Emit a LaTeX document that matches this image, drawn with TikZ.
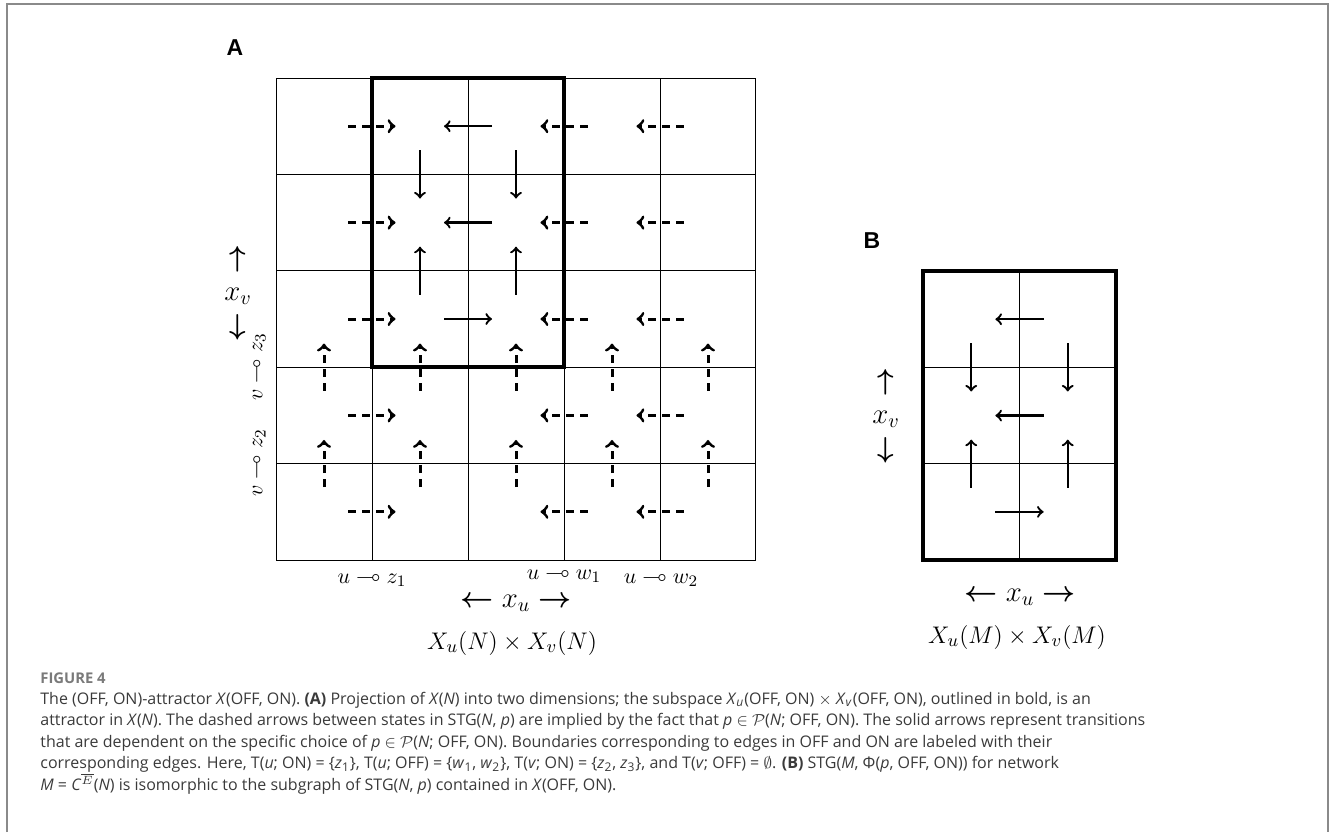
\documentclass[tikz,border=0pt]{standalone}
\usepackage{amsmath}
\usepackage{amssymb}
\usepackage{bm}
\usepackage[no-math]{fontspec}
\usetikzlibrary{positioning}
\newfontfamily\capfont{Open Sans}
\newfontfamily\panelfont{Liberation Sans}
\definecolor{framegray}{RGB}{138,138,138}
\definecolor{capgray}{RGB}{58,58,58}
\definecolor{figgray}{RGB}{122,122,122}
\newcommand{\cv}[1]{\textit{#1}}

\begin{document}
\begin{tikzpicture}[x=0.5pt, y=-0.5pt,
    gridline/.style={line width=0.5pt},
    boldbox/.style={line width=2.2pt},
    solidarr/.style={->, line width=1.15pt},
    dasharr/.style={->, line width=1.5pt, dash pattern=on 4pt off 3pt},
    cutlabel/.style={inner sep=0pt, font=\fontsize{11}{13}\selectfont},
    axislabel/.style={inner sep=0pt, font=\fontsize{14}{17}\selectfont},
    prodlabel/.style={inner sep=0pt, font=\fontsize{13}{15}\selectfont},
    panellabel/.style={inner sep=0pt, font=\panelfont\bfseries\fontsize{11.5}{13}\selectfont},
    capline/.style={inner sep=0pt, anchor=base west, text=capgray, font=\capfont\fontsize{8}{10}\selectfont}]
    \useasboundingbox (0,0) rectangle (1330,832);
    \draw[framegray, line width=1pt] (7,832) -- (7,4) -- (1328,4) -- (1328,832);

    % panel A: projection of X(N)
    \node[panellabel] (labA) at (235,48) {A};
    \begin{scope}[shift={(276,560)}, x=48pt, y=48.2pt]
        \draw[gridline, step=1] (0,0) grid (5,5);
        \draw[boldbox] (1,2) rectangle (3,5);
        \foreach \r in {0,...,4} {
            \draw[dasharr] (0.755,\r+0.5) -- (1.245,\r+0.5);
            \draw[dasharr] (3.245,\r+0.5) -- (2.755,\r+0.5);
            \draw[dasharr] (4.245,\r+0.5) -- (3.755,\r+0.5);
        }
        \foreach \c in {0,...,4}
            \foreach \b in {1,2}
                \draw[dasharr] (\c+0.5,\b-0.245) -- (\c+0.5,\b+0.245);
        \draw[solidarr] (2.25,4.5) -- (1.75,4.5);
        \draw[solidarr] (2.25,3.5) -- (1.75,3.5);
        \draw[solidarr] (1.75,2.5) -- (2.25,2.5);
        \draw[solidarr] (1.5,4.25) -- (1.5,3.75);
        \draw[solidarr] (2.5,4.25) -- (2.5,3.75);
        \draw[solidarr] (1.5,2.75) -- (1.5,3.25);
        \draw[solidarr] (2.5,2.75) -- (2.5,3.25);
    \end{scope}
    \node[cutlabel, rotate=90] (vz3) at (258,367) {$v \multimap z_3$};
    \node[cutlabel, rotate=90] (vz2) at (258,463) {$v \multimap z_2$};
    \node[cutlabel] (uz1) at (372,579) {$u \multimap z_1$};
    \node[cutlabel] (uw1) at (564,575) {$u \multimap w_1$};
    \node[cutlabel] (uw2) at (661,579) {$u \multimap w_2$};
    \node[axislabel, align=center] (xvA) at (238,293) {$\boldsymbol{\uparrow}$\\$x_v$\\$\boldsymbol{\downarrow}$};
    \node[axislabel] (xuA) at (516,603) {$\boldsymbol{\leftarrow} x_u \boldsymbol{\rightarrow}$};
    \node[prodlabel] (prodA) at (512,643) {$X_u(N) \times X_v(N)$};

    % panel B: STG(M, ...)
    \node[panellabel] (labB) at (872,241) {B};
    \begin{scope}[shift={(923,560)}, x=48.25pt, y=48.15pt]
        \draw[gridline, step=1] (0,0) grid (2,3);
        \draw[boldbox] (0,0) rectangle (2,3);
        \draw[solidarr] (1.25,2.5) -- (0.75,2.5);
        \draw[solidarr] (1.25,1.5) -- (0.75,1.5);
        \draw[solidarr] (0.75,0.5) -- (1.25,0.5);
        \draw[solidarr] (0.5,2.25) -- (0.5,1.75);
        \draw[solidarr] (1.5,2.25) -- (1.5,1.75);
        \draw[solidarr] (0.5,0.75) -- (0.5,1.25);
        \draw[solidarr] (1.5,0.75) -- (1.5,1.25);
    \end{scope}
    \node[axislabel, align=center] (xvB) at (886,416) {$\boldsymbol{\uparrow}$\\$x_v$\\$\boldsymbol{\downarrow}$};
    \node[axislabel] (xuB) at (1020,597) {$\boldsymbol{\leftarrow} x_u \boldsymbol{\rightarrow}$};
    \node[prodlabel] (prodB) at (1017,637) {$X_u(M) \times X_v(M)$};

    % caption
    \node[capline, text=figgray, font=\capfont\bfseries\fontsize{7.4}{9}\selectfont] (fig) at (40,683) {FIGURE 4};
    \node[capline] (cap1) at (40,704) {The (OFF, ON)-attractor \cv{X}(OFF, ON). \textbf{(A)} Projection of \cv{X}(\cv{N}) into two dimensions; the subspace \cv{X}\textsubscript{\cv{u}}(OFF, ON) $\times$ \cv{X}\textsubscript{\cv{v}}(OFF, ON), outlined in bold, is an};
    \node[capline] (cap2) at (40,725.5) {attractor in \cv{X}(\cv{N}). The dashed arrows between states in STG(\cv{N}, \cv{p}) are implied by the fact that \cv{p} $\in$ $\mathcal{P}$(\cv{N}; OFF, ON). The solid arrows represent transitions};
    \node[capline] (cap3) at (40,747) {that are dependent on the specific choice of \cv{p} $\in$ $\mathcal{P}$(\cv{N}; OFF, ON). Boundaries corresponding to edges in OFF and ON are labeled with their};
    \node[capline] (cap4) at (40,768.5) {corresponding edges. Here, T(\cv{u}; ON) = \{\cv{z}\textsubscript{1}\}, T(\cv{u}; OFF) = \{\cv{w}\textsubscript{1}, \cv{w}\textsubscript{2}\}, T(\cv{v}; ON) = \{\cv{z}\textsubscript{2}, \cv{z}\textsubscript{3}\}, and T(\cv{v}; OFF) = $\emptyset$. \textbf{(B)} STG(\cv{M}, Φ(\cv{p}, OFF, ON)) for network};
    \node[capline] (cap5) at (40,790) {\cv{M} = \cv{C}$^{\overline{E}}$(\cv{N}) is isomorphic to the subgraph of STG(\cv{N}, \cv{p}) contained in \cv{X}(OFF, ON).};
\end{tikzpicture}
\end{document}
